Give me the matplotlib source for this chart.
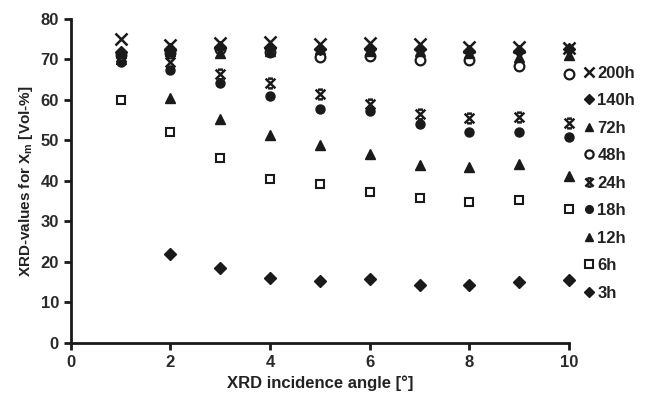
import numpy as np
import matplotlib
matplotlib.use("Agg")
import matplotlib.pyplot as plt
from matplotlib.path import Path

plt.rcParams['font.family'] = ['Liberation Sans', 'DejaVu Sans']
plt.rcParams['font.weight'] = 'bold'
plt.rcParams['mathtext.default'] = 'regular'

angle = [1, 2, 3, 4, 5, 6, 7, 8, 9, 10]
angle_3h = [2, 3, 4, 5, 6, 7, 8, 9, 10]

h200 = [75.0, 73.6, 74.0, 74.4, 73.8, 74.0, 73.8, 73.0, 73.0, 72.8]
h140 = [71.8, 72.5, 73.0, 72.8, 72.5, 72.5, 72.5, 72.0, 72.0, 72.5]
h72 = [71.5, 72.0, 71.5, 72.2, 72.5, 72.0, 72.0, 71.5, 70.5, 71.2]
h48 = [71.0, 71.5, 72.5, 71.8, 70.6, 70.8, 69.8, 69.9, 68.3, 66.5]
h24 = [70.5, 69.5, 66.4, 64.2, 61.5, 59.0, 56.5, 55.5, 55.8, 54.2]
h18 = [69.5, 67.5, 64.2, 61.0, 57.8, 57.2, 54.0, 52.0, 52.0, 50.8]
h12 = [70.0, 60.5, 55.3, 51.3, 48.8, 46.7, 44.0, 43.5, 44.2, 41.2]
h6 = [60.0, 52.0, 45.6, 40.5, 39.2, 37.2, 35.9, 34.9, 35.2, 33.2]
h3 = [22.0, 18.5, 16.1, 15.3, 15.8, 14.3, 14.4, 15.0, 15.5]

# x with short bars top and bottom (the "24h" symbol)
verts = [(-1, 1), (1, -1), (-1, -1), (1, 1), (-0.5, 1), (0.5, 1), (-0.5, -1), (0.5, -1)]
codes = [Path.MOVETO, Path.LINETO, Path.MOVETO, Path.LINETO,
         Path.MOVETO, Path.LINETO, Path.MOVETO, Path.LINETO]
starx = Path(verts, codes)

c = '#1a1a1a'
fig = plt.figure(figsize=(6.49, 3.96), dpi=100)
ax = fig.add_axes([0.109, 0.134, 0.768, 0.818])

ax.plot(angle_3h, h3, 'D', color=c, ms=6, ls='none', label='3h', clip_on=False)
ax.plot(angle, h6, 's', mfc='white', mec=c, mew=1.5, ms=6, ls='none', label='6h', clip_on=False)
ax.plot(angle, h12, '^', color=c, ms=7, ls='none', label='12h', clip_on=False)
ax.plot(angle, h18, 'o', color=c, ms=6.5, ls='none', label='18h', clip_on=False)
ax.plot(angle, h24, ls='none', marker=starx, mfc='none', mec=c, mew=1.8, ms=7, label='24h', clip_on=False)
ax.plot(angle, h48, 'o', mfc='white', mec=c, mew=1.6, ms=7, ls='none', label='48h', clip_on=False)
ax.plot(angle, h72, '^', color=c, ms=7, ls='none', label='72h', clip_on=False)
ax.plot(angle, h140, 'D', color=c, ms=6, ls='none', label='140h', clip_on=False)
ax.plot(angle, h200, 'x', color=c, mew=1.8, ms=8, ls='none', label='200h', clip_on=False)

ax.set_xlim(0, 10)
ax.set_ylim(0, 80)
ax.set_xticks([0, 2, 4, 6, 8, 10])
ax.set_yticks(np.arange(0, 81, 10))
for s in ['top', 'right']:
    ax.spines[s].set_visible(False)
for s in ['left', 'bottom']:
    ax.spines[s].set_linewidth(2)
    ax.spines[s].set_color(c)
ax.tick_params(width=2, length=5, color=c, labelsize=12, labelcolor='#2a2a2a')

ax.set_xlabel('XRD incidence angle [°]', fontsize=12, fontweight='bold', color='#222222')
ax.set_ylabel('XRD-values for X$_m$ [Vol-%]', fontsize=11, fontweight='bold', color='#222222')

h, l = ax.get_legend_handles_labels()
ax.legend(h[::-1], l[::-1], loc='upper left', bbox_to_anchor=(1.015, 0.877), frameon=False,
          handlelength=0.7, handletextpad=0.15, labelspacing=0.75, fontsize=12,
          borderaxespad=0, labelcolor='#222222', markerscale=0.85)

fig.savefig('out.png', dpi=100)
